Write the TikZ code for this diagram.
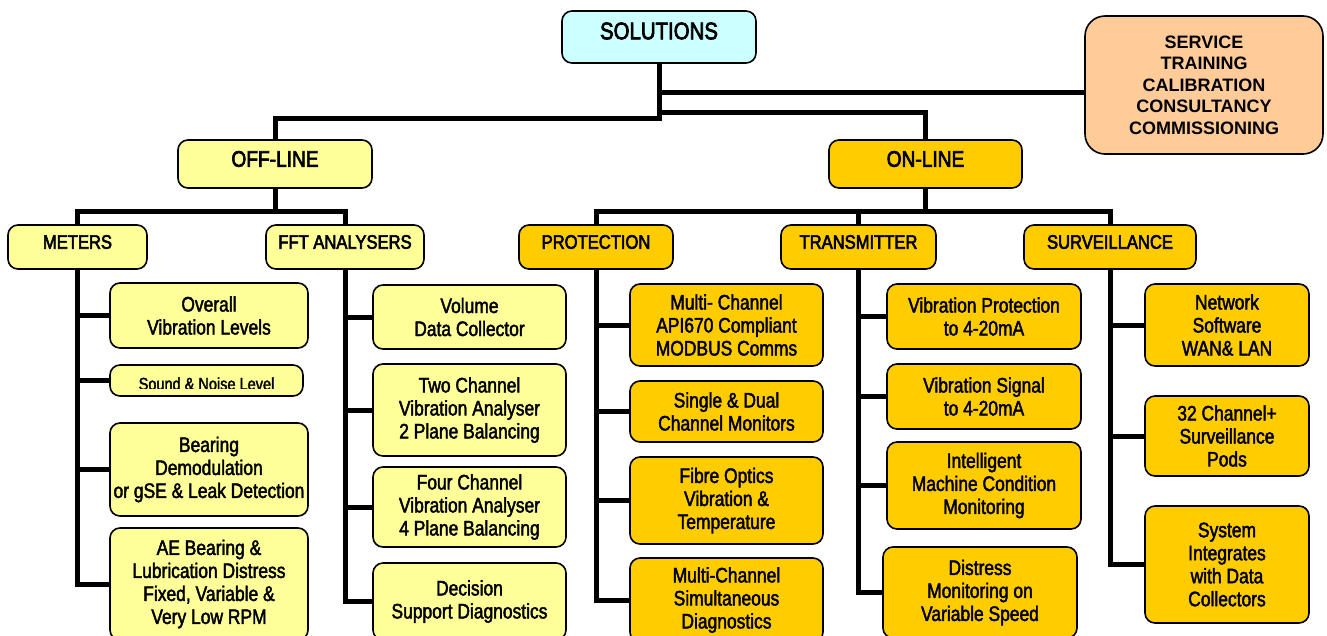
\documentclass[tikz,border=0pt]{standalone}
\usepackage{fontspec}
\setmainfont{Liberation Sans}[FakeStretch=0.83, FakeBold=2]
\newfontfamily\hdfont{Liberation Sans}[FakeStretch=0.85, FakeBold=3]
\newfontfamily\svcfont{Liberation Sans}
\definecolor{ly}{HTML}{FFFF99}
\definecolor{dy}{HTML}{FFCC00}
\definecolor{cy}{HTML}{CCFFFF}
\definecolor{pe}{HTML}{FFCC99}
\newcommand\bodyf{\fontsize{21}{23}\selectfont}
\begin{document}
\begin{tikzpicture}[x=1pt,y=-1pt,
  box/.style={draw, line width=1.6pt, rounded corners=10pt, align=center, inner sep=1pt, font=\bodyf},
  lt/.style={box, fill=ly},
  dk/.style={box, fill=dy},
  conn/.style={line width=5pt},
  hd/.style={font=\hdfont\fontsize{19.5}{22}\selectfont},
  hb/.style={font=\hdfont\fontsize{22.5}{25}\selectfont}]
\useasboundingbox (0,0) rectangle (1327,635);
% top
\node[box, fill=cy, minimum width=194pt, minimum height=52pt] (sol) at (659,37) {};
\node[font=\hdfont\fontsize{24}{28}\selectfont] (solt) at ([yshift=6pt]sol.center) {SOLUTIONS};
\node[box, fill=pe, rounded corners=20pt, minimum width=238pt, minimum height=138pt,
  font=\svcfont\bfseries\fontsize{18}{21.5}\selectfont] (svc) at (1204,85)
  {SERVICE\\TRAINING\\CALIBRATION\\CONSULTANCY\\COMMISSIONING};
% level 1
\node[lt, minimum width=194pt, minimum height=48pt] (off) at (275,164) {};
\node[hb] (offt) at ([yshift=5pt]off.center) {OFF-LINE};
\node[dk, minimum width=193pt, minimum height=48pt] (on) at (925.5,164) {};
\node[hb] (ont) at ([yshift=5pt]on.center) {ON-LINE};
% level 2
\node[lt, minimum width=139pt, minimum height=44pt] (met) at (77.5,247) {};
\node[hd] (mett) at ([yshift=5pt]met.center) {METERS};
\node[lt, minimum width=158pt, minimum height=44pt] (fft) at (345,247) {};
\node[hd] (fftt) at ([yshift=5pt]fft.center) {FFT ANALYSERS};
\node[dk, minimum width=154pt, minimum height=44pt] (pro) at (596,247) {};
\node[hd] (prot) at ([yshift=5pt]pro.center) {PROTECTION};
\node[dk, minimum width=155pt, minimum height=44pt] (tra) at (858.5,247) {};
\node[hd] (trat) at ([yshift=5pt]tra.center) {TRANSMITTER};
\node[dk, minimum width=172pt, minimum height=44pt] (sur) at (1110,247) {};
\node[hd] (surt) at ([yshift=5pt]sur.center) {SURVEILLANCE};
% meters children
\node[lt, minimum width=198pt, minimum height=65pt] (m1) at (209,315.5) {Overall\\Vibration Levels};
\node[lt, minimum width=193pt, minimum height=31pt] (m2) at (206.5,380.5) {};
\begin{scope}
\clip (110,366) rectangle (303,388);
\node[font=\fontsize{17.5}{20}\selectfont, anchor=base, inner sep=0pt] (m2t) at (206.5,390) {Sound \& Noise Level};
\end{scope}
\node[lt, minimum width=198pt, minimum height=93pt] (m3) at (209,469.5) {Bearing\\Demodulation\\or gSE \& Leak Detection};
\node[lt, minimum width=198pt, minimum height=112pt] (m4) at (209,584) {AE Bearing \&\\Lubrication Distress\\Fixed, Variable \&\\Very Low RPM};
% fft children
\node[lt, minimum width=193pt, minimum height=64pt] (f1) at (469.5,317) {Volume\\Data Collector};
\node[lt, minimum width=193pt, minimum height=92pt] (f2) at (469.5,410) {Two Channel\\Vibration Analyser\\2 Plane Balancing};
\node[lt, minimum width=193pt, minimum height=80pt] (f3) at (469.5,507) {Four Channel\\Vibration Analyser\\4 Plane Balancing};
\node[lt, minimum width=193pt, minimum height=77pt] (f4) at (469.5,601.5) {Decision\\Support Diagnostics};
% protection children
\node[dk, minimum width=193pt, minimum height=82pt] (p1) at (726.5,325) {Multi- Channel\\API670 Compliant\\MODBUS Comms};
\node[dk, minimum width=193pt, minimum height=61pt] (p2) at (726.5,411.5) {Single \& Dual\\Channel Monitors};
\node[dk, minimum width=193pt, minimum height=87pt] (p3) at (726.5,500.5) {Fibre Optics\\Vibration \&\\Temperature};
\node[dk, minimum width=193pt, minimum height=84pt] (p4) at (726.5,600) {Multi-Channel\\Simultaneous\\Diagnostics};
% transmitter children
\node[dk, minimum width=194pt, minimum height=65pt] (t1) at (984,316.5) {Vibration Protection\\to 4-20mA};
\node[dk, minimum width=194pt, minimum height=65pt] (t2) at (984,396.5) {Vibration Signal\\to 4-20mA};
\node[dk, minimum width=194pt, minimum height=87pt] (t3) at (984,485.5) {Intelligent\\Machine Condition\\Monitoring};
\node[dk, minimum width=194pt, minimum height=91pt] (t4) at (980,592.5) {Distress\\Monitoring on\\Variable Speed};
% surveillance children
\node[dk, minimum width=164pt, minimum height=82pt] (s1) at (1227,325) {Network\\Software\\WAN\& LAN};
\node[dk, minimum width=164pt, minimum height=80pt] (s2) at (1227,436) {32 Channel+\\Surveillance\\Pods};
\node[dk, minimum width=164pt, minimum height=117pt] (s3) at (1227,564.5) {System\\Integrates\\with Data\\Collectors};
% connectors top
\draw[conn] (sol.south) -- (659,118) -| (off.north);
\coordinate (j1) at (659,92);
\draw[conn] (j1) -- (j1 -| svc.west);
\coordinate (j2) at (659,112);
\draw[conn] (j2) -| (on.north);
% buses
\coordinate (ob) at (275,211);
\draw[conn] (off.south) -- (ob);
\draw[conn] (met.north) -- (met.north |- ob) -| (fft.north);
\coordinate (nb) at (926,211);
\draw[conn] (on.south) -- (on.south |- nb);
\draw[conn] (pro.north) -- (pro.north |- nb) -| (sur.north);
\draw[conn] (tra.north) -- (tra.north |- nb);
% children
\foreach \c in {m1,m2,m3,m4} \draw[conn] (met.south) |- (\c.west);
\foreach \c in {f1,f2,f3,f4} \draw[conn] (fft.south) |- (\c.west);
\foreach \c in {p1,p2,p3,p4} \draw[conn] (pro.south) |- (\c.west);
\foreach \c in {t1,t2,t3,t4} \draw[conn] (tra.south) |- (\c.west);
\foreach \c in {s1,s2,s3} \draw[conn] (sur.south) |- (\c.west);
\end{tikzpicture}
\end{document}
